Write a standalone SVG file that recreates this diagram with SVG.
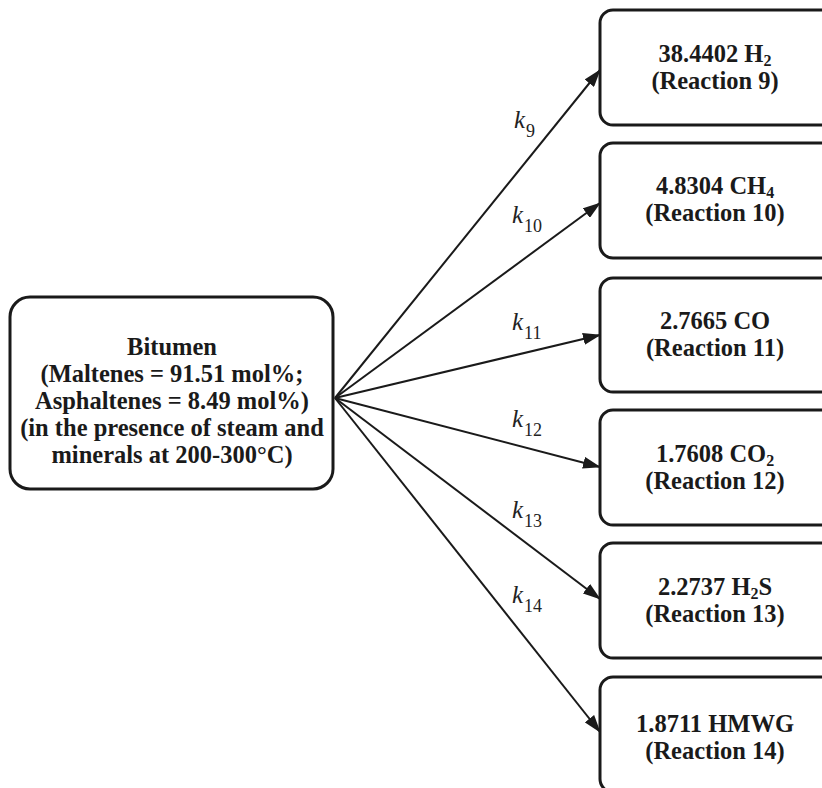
<svg xmlns="http://www.w3.org/2000/svg" width="822" height="788" viewBox="0 0 822 788">
<style>
.box{fill:#fff;stroke:#1a1a1a;stroke-width:3}
.t{font-family:"Liberation Serif","Times New Roman",serif;font-weight:bold;font-size:24.5px;fill:#1a1a1a;text-anchor:middle}
.k{font-family:"Liberation Serif","Times New Roman",serif;font-style:italic;font-size:25px;fill:#222}
.sub{font-style:normal;font-size:18px}
.bsub{font-size:16px}
.c{stroke:#1a1a1a;stroke-width:2;fill:none;marker-end:url(#ah)}
</style>
<defs>
<marker id="ah" markerUnits="userSpaceOnUse" markerWidth="18" markerHeight="12" refX="17" refY="6" orient="auto">
<path d="M0,0 L18,6 L0,12 z" fill="#1a1a1a"/>
</marker>
</defs>
<rect width="822" height="788" fill="#fff"/>
<g id="connectors">
<line class="c" x1="335" y1="398" x2="600" y2="70"/>
<line class="c" x1="335" y1="398" x2="600" y2="203"/>
<line class="c" x1="335" y1="398" x2="600" y2="335"/>
<line class="c" x1="335" y1="398" x2="600" y2="467"/>
<line class="c" x1="335" y1="398" x2="600" y2="599"/>
<line class="c" x1="335" y1="398" x2="600" y2="732"/>
<text class="k" x="514" y="128">k<tspan class="sub" dx="1" dy="9">9</tspan></text>
<text class="k" x="512" y="223">k<tspan class="sub" dx="1" dy="9">10</tspan></text>
<text class="k" x="512" y="330">k<tspan class="sub" dx="1" dy="9">11</tspan></text>
<text class="k" x="512" y="427">k<tspan class="sub" dx="1" dy="9">12</tspan></text>
<text class="k" x="512" y="518">k<tspan class="sub" dx="1" dy="9">13</tspan></text>
<text class="k" x="512" y="603">k<tspan class="sub" dx="1" dy="9">14</tspan></text>
</g>
<g id="bitumen">
<rect class="box" x="10" y="297" width="323" height="192" rx="20"/>
<text class="t" x="172" y="355">Bitumen</text>
<text class="t" x="172" y="382">(Maltenes = 91.51 mol%;</text>
<text class="t" x="172" y="409">Asphaltenes = 8.49 mol%)</text>
<text class="t" x="172" y="436">(in the presence of steam and</text>
<text class="t" x="172" y="463">minerals at 200-300°C)</text>
</g>
<g id="r9">
<rect class="box" x="600" y="10" width="240" height="115" rx="13"/>
<text class="t" x="715" y="62">38.4402 H<tspan class="bsub" dy="4">2</tspan></text>
<text class="t" x="715" y="89">(Reaction 9)</text>
</g>
<g id="r10">
<rect class="box" x="600" y="143" width="240" height="115" rx="13"/>
<text class="t" x="715" y="194">4.8304 CH<tspan class="bsub" dy="4">4</tspan></text>
<text class="t" x="715" y="221">(Reaction 10)</text>
</g>
<g id="r11">
<rect class="box" x="600" y="278" width="240" height="114" rx="13"/>
<text class="t" x="715" y="329">2.7665 CO</text>
<text class="t" x="715" y="356">(Reaction 11)</text>
</g>
<g id="r12">
<rect class="box" x="600" y="410" width="240" height="115" rx="13"/>
<text class="t" x="715" y="462">1.7608 CO<tspan class="bsub" dy="4">2</tspan></text>
<text class="t" x="715" y="489">(Reaction 12)</text>
</g>
<g id="r13">
<rect class="box" x="600" y="543" width="240" height="115" rx="13"/>
<text class="t" x="715" y="595">2.2737 H<tspan class="bsub" dy="4">2</tspan><tspan dy="-4">S</tspan></text>
<text class="t" x="715" y="622">(Reaction 13)</text>
</g>
<g id="r14">
<rect class="box" x="600" y="677" width="240" height="115" rx="13"/>
<text class="t" x="715" y="732">1.8711 HMWG</text>
<text class="t" x="715" y="759">(Reaction 14)</text>
</g>
</svg>
